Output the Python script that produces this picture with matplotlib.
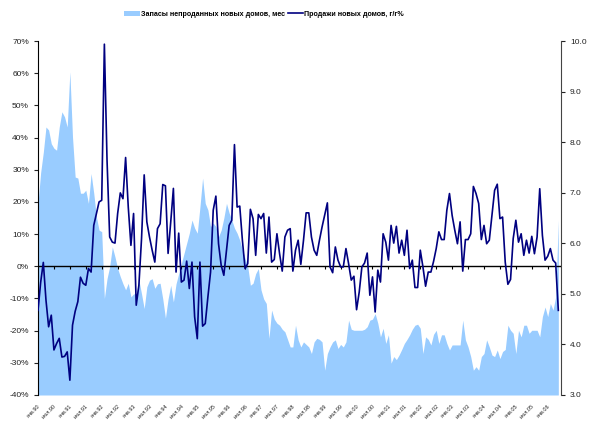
import numpy as np
import matplotlib
matplotlib.use("Agg")
import matplotlib.pyplot as plt
from matplotlib.ticker import FuncFormatter
from matplotlib import font_manager

installed = {f.name for f in font_manager.fontManager.ttflist}
if "Liberation Sans Narrow" in installed:
	plt.rcParams['font.family'] = ['Liberation Sans Narrow', 'DejaVu Sans']
	leg_size = 6.3
else:
	plt.rcParams['font.family'] = ['Liberation Sans', 'DejaVu Sans']
	leg_size = 5.1

# monthly data, Jan 1990 .. May 2006
sales_yoy = [
	-13.7, -5.0, 1.2, -10.5, -18.8, -15.2, -26.0, -24.0, -22.4, -28.2,
	-28.0, -26.6, -35.4, -18.3, -14.0, -11.0, -3.4, -5.3, -5.9, -0.7,
	-1.8, 12.7, 16.4, 20.0, 20.5, 69.0, 33.0, 9.1, 7.5, 7.2,
	16.4, 22.8, 21.0, 33.8, 18.4, 6.5, 16.4, -12.1, -5.9, 8.6,
	28.4, 13.8, 9.1, 5.0, 1.3, 11.7, 13.2, 25.4, 25.0, 4.0,
	13.8, 24.2, -1.8, 10.3, -4.9, -4.3, 1.6, -6.9, 1.3, -15.7,
	-22.5, 1.3, -18.6, -17.8, -9.5, -1.8, 17.4, 21.8, 7.0, 0.3,
	-2.8, 5.0, 12.7, 14.3, 37.8, 18.4, 18.7, 8.0, -0.7, 0.8,
	17.7, 14.8, 3.4, 16.1, 14.8, 16.4, 4.1, 15.3, 1.3, 2.1,
	10.1, 3.9, -1.5, 9.1, 11.2, 11.7, -1.5, 5.0, 8.1, 0.6,
	8.0, 16.6, 16.6, 9.1, 5.0, 3.4, 8.0, 12.2, 16.0, 19.7,
	-0.2, -2.0, 6.0, 1.9, -0.2, -0.2, 5.5, 0.8, -4.3, -3.1,
	-13.5, -8.0, -0.2, 1.0, 4.1, -9.0, -3.3, -14.2, -1.2, -4.9,
	10.1, 7.5, 1.9, 12.7, 7.2, 12.4, 4.1, 8.1, 3.4, 11.2,
	-0.7, 1.9, -6.6, -6.6, 5.0, -0.2, -6.2, -1.8, -1.8, 1.5,
	5.5, 10.7, 8.3, 8.3, 17.4, 22.6, 15.8, 11.2, 7.0, 13.8,
	-1.5, 8.3, 8.3, 10.1, 24.8, 22.6, 19.5, 8.3, 12.7, 7.0,
	8.1, 16.0, 23.6, 25.5, 14.8, 15.3, 1.3, -5.6, -4.1, 8.6,
	14.3, 7.5, 10.1, 3.4, 8.1, 4.1, 9.3, 3.9, 9.1, 24.1,
	9.6, 1.9, 3.1, 5.5, 1.9, 1.0, -13.7,
]

inventory = [
	6.79, 7.4, 7.8, 8.3, 8.24, 7.97, 7.88, 7.84, 8.3, 8.6,
	8.5, 8.3, 9.39, 8.1, 7.31, 7.29, 6.99, 6.99, 7.05, 6.79,
	7.38, 6.99, 6.52, 6.26, 6.23, 4.91, 5.3, 5.54, 5.93, 5.73,
	5.5, 5.34, 5.2, 5.08, 5.21, 4.94, 5.0, 5.0, 5.27, 5.0,
	4.71, 5.14, 5.27, 5.3, 5.11, 5.2, 5.21, 4.9, 4.52, 4.9,
	5.17, 4.84, 5.2, 5.4, 5.6, 5.8, 6.0, 6.2, 6.46, 6.3,
	6.2, 6.72, 7.29, 6.79, 6.66, 6.33, 6.4, 6.33, 6.13, 6.26,
	6.5, 6.79, 6.6, 6.46, 6.3, 6.2, 6.06, 5.87, 5.7, 5.54,
	5.17, 5.21, 5.4, 5.5, 5.08, 4.9, 4.81, 4.12, 4.68, 4.5,
	4.42, 4.38, 4.3, 4.25, 4.1, 3.95, 3.95, 4.38, 4.09, 3.95,
	4.05, 4.0, 3.95, 3.82, 4.05, 4.12, 4.1, 4.05, 3.49, 3.82,
	3.95, 4.05, 4.09, 3.92, 4.0, 3.95, 4.05, 4.48, 4.3, 4.28,
	4.28, 4.28, 4.28, 4.3, 4.35, 4.48, 4.5, 4.61, 4.42, 4.15,
	4.32, 4.02, 4.19, 3.63, 3.76, 3.7, 3.79, 3.9, 4.02, 4.1,
	4.19, 4.3, 4.38, 4.4, 4.32, 3.82, 4.15, 4.1, 3.99, 4.2,
	4.28, 4.02, 4.19, 4.19, 4.02, 3.89, 3.99, 3.99, 3.99, 3.99,
	4.48, 4.09, 3.95, 3.76, 3.49, 3.56, 3.49, 3.76, 3.82, 4.09,
	3.95, 3.79, 3.76, 3.89, 3.72, 3.86, 3.9, 4.38, 4.28, 4.22,
	3.82, 4.28, 4.15, 4.38, 4.38, 4.22, 4.28, 4.28, 4.28, 4.15,
	4.55, 4.74, 4.55, 4.81, 4.68, 4.94, 6.46,
]

years = list(range(1990, 2007))
tick_labels = [f"{m}.{y % 100:02d}" for y in years for m in ("янв", "июл")][:33]

inv_label = "Запасы непроданных новых домов, мес"
sales_label = "Продажи новых домов, г/г%"

navy = "#000080"
pale_blue = "#99CCFF"
txt = "#222222"

x = np.arange(len(sales_yoy))
tick_pos = np.arange(len(tick_labels)) * 6

fig = plt.figure(figsize=(5.92, 4.24), dpi=100)
ax = fig.add_axes([0.0642, 0.0684, 0.8834, 0.8349])
ax2 = ax.twinx()
ax.set_zorder(ax2.get_zorder() + 1)
ax.patch.set_visible(False)

# area on the right axis
area = ax2.fill_between(x, 3.0, inventory, color=pale_blue, lw=0, label=inv_label)
ax2.set_ylim(3.0, 10.0)
ax2.set_yticks(np.arange(3, 11, 1))
ax2.yaxis.set_major_formatter(FuncFormatter(lambda v, p: f"{v:.1f}"))

# line on the left axis
ax.axhline(0, color="black", lw=1.0, zorder=2)
ax.plot(tick_pos, np.zeros(len(tick_pos)), ls="none", marker=3, ms=2.5, mew=0.8, color="black", zorder=2)
line, = ax.plot(x, sales_yoy, color=navy, lw=1.2, zorder=3, label=sales_label)
ax.set_ylim(-40, 70)
ax.set_yticks(np.arange(-40, 71, 10))
ax.yaxis.set_major_formatter(FuncFormatter(lambda v, p: f"{v:.0f}%"))
ax.set_xlim(0, len(sales_yoy))

ax.set_xticks(tick_pos)
ax.set_xticklabels(tick_labels, rotation=45, ha="right", rotation_mode="anchor", fontsize=4, color=txt)
ax.tick_params(axis="x", length=0, pad=6)
ax.tick_params(axis="y", labelsize=6, colors=txt, length=3, width=0.8, direction="out")
ax2.tick_params(axis="y", labelsize=6, colors=txt, length=3, width=0.8, direction="out")

for a in (ax, ax2):
	a.spines["top"].set_visible(False)
	a.spines["bottom"].set_visible(False)
ax.spines["right"].set_visible(False)
ax2.spines["left"].set_visible(False)
ax.spines["left"].set_color("black")
ax2.spines["right"].set_color("#444444")

fig.legend([area, line], [inv_label, sales_label], loc="upper center", bbox_to_anchor=(0.446, 0.99),
	ncol=2, frameon=False, handlelength=2.2, handleheight=0.9, handletextpad=0.15, columnspacing=0.4,
	prop={"size": leg_size, "weight": "bold"})

fig.savefig("out.png", dpi=100)
